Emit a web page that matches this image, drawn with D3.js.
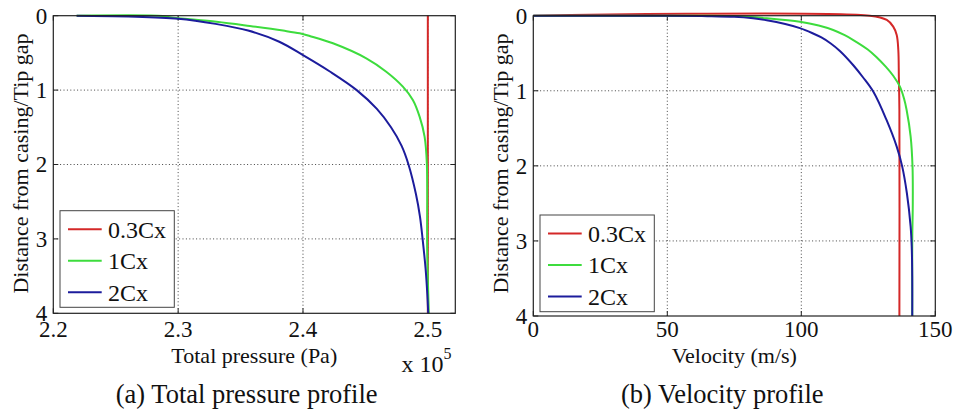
<!DOCTYPE html>
<html><head><meta charset="utf-8">
<script src="https://cdn.jsdelivr.net/npm/d3@7/dist/d3.min.js"></script>
<style>
html,body{margin:0;padding:0;background:#fff;}
svg{display:block;font-family:"Liberation Serif","Times New Roman",serif;}
</style></head>
<body><svg id="c" width="958" height="419"></svg>
<script>
// ---------- data ----------
const seriesNames = ["0.3Cx", "1Cx", "2Cx"];
const yTicks = [0, 1, 2, 3, 4];
const pressureTicks = [2.2, 2.3, 2.4, 2.5];
const velocityTicks = [0, 50, 100, 150];
const captions = ["(a) Total pressure profile", "(b) Velocity profile"];
const xTitles = ["Total pressure (Pa)", "Velocity (m/s)"];
const yTitle = "Distance from casing/Tip gap";

// Total pressure (x 10^5 Pa) vs distance from casing / tip gap  [x, y]
const pressure03Cx = [[2.5, 0], [2.5, 4]];
const pressure1Cx = [[2.2187, 0], [2.2878, 0.004], [2.2934, 0.022], [2.3307, 0.081], [2.3574, 0.138], [2.384, 0.20],
  [2.3974, 0.237], [2.4054, 0.273], [2.424, 0.371], [2.4507, 0.573], [2.4667, 0.753], [2.48, 0.954],
  [2.488, 1.133], [2.4934, 1.357], [2.4974, 1.626], [2.4992, 1.984], [2.4995, 3.15], [2.5008, 4.0]];
const pressure2Cx = [[2.2187, 0], [2.26, 0.01], [2.30, 0.04], [2.33, 0.11], [2.356, 0.2], [2.381, 0.35], [2.40, 0.53],
  [2.4215, 0.75], [2.443, 1.0], [2.459, 1.25], [2.4705, 1.5], [2.479, 1.75], [2.4845, 2.0], [2.4905, 2.4],
  [2.4937, 2.7], [2.4958, 3.0], [2.4982, 3.4], [2.4996, 3.75], [2.5003, 4.0]];

// Velocity (m/s) vs distance from casing / tip gap  [x, y]
const velocity03Cx = [[0, 0], [125.6, 0], [131.9, 0.057], [134.3, 0.146], [135.6, 0.257], [136.2, 0.457],
  [136.4, 0.812], [136.6, 1.256], [136.6, 4.0]];
const velocity1Cx = [[0, 0], [60, 0], [74.6, 0.005], [87.1, 0.035], [99.5, 0.08], [106.5, 0.13], [111.9, 0.19],
  [116.2, 0.26], [119.4, 0.324], [124.8, 0.45], [128.0, 0.55], [131.5, 0.679], [134.3, 0.8], [136.8, 0.945],
  [138.3, 1.1], [139.3, 1.256], [140.8, 1.611], [141.5, 2.01], [141.6, 2.5], [141.4, 3.0], [141.4, 4.0]];
const velocity2Cx = [[0, 0], [50, 0.002], [65, 0.006], [75, 0.015], [82, 0.035], [87.1, 0.06], [94, 0.11],
  [99.5, 0.165], [104, 0.23], [107.5, 0.29], [111, 0.37], [114.4, 0.47], [119.4, 0.66], [123, 0.82],
  [127, 1.02], [131.8, 1.389], [135.6, 1.744], [137.6, 2.0], [139.4, 2.365], [140.8, 2.81], [141.2, 3.076],
  [141.4, 3.475], [141.4, 4.0]];

// ---------- drawing ----------
const colors = ["#d42828", "#3ddc3d", "#1c1c9c"];
const svg = d3.select("#c");

const panels = [
  {left: 53.3, right: 455.3, top: 15.7, bottom: 313.3, domain: [2.2, 2.522], ticks: pressureTicks,
   fmt: d3.format(".1f"), series: [pressure03Cx, pressure1Cx, pressure2Cx], xTitle: xTitles[0], caption: captions[0],
   capX: 246.7, legend: {x: 60, y: 210.7, w: 114.3, h: 96.6}, exp: true},
  {left: 533.3, right: 935.3, top: 15.7, bottom: 316, domain: [0, 150], ticks: velocityTicks,
   fmt: d3.format("d"), series: [velocity03Cx, velocity1Cx, velocity2Cx], xTitle: xTitles[1], caption: captions[1],
   capX: 722.3, legend: {x: 540, y: 215, w: 114.3, h: 96.7}, exp: false}
];

panels.forEach(p => {
  const x = d3.scaleLinear().domain(p.domain).range([p.left, p.right]);
  const y = d3.scaleLinear().domain([0, 4]).range([p.top, p.bottom]);
  const g = svg.append("g");
  const tl = 5;

  // grid
  p.ticks.forEach(t => {
    const px = x(t);
    if (px > p.left + 1 && px < p.right - 1)
      g.append("line").attr("x1", px).attr("x2", px).attr("y1", p.top).attr("y2", p.bottom)
        .attr("stroke", "#444").attr("stroke-width", 1).attr("stroke-dasharray", "1,2.4");
  });
  yTicks.forEach(t => {
    const py = y(t);
    if (py > p.top + 1 && py < p.bottom - 1)
      g.append("line").attr("x1", p.left).attr("x2", p.right).attr("y1", py).attr("y2", py)
        .attr("stroke", "#444").attr("stroke-width", 1).attr("stroke-dasharray", "1,2.4");
  });

  // tick marks (inside, all four sides)
  p.ticks.forEach(t => {
    const px = x(t);
    g.append("line").attr("x1", px).attr("x2", px).attr("y1", p.bottom).attr("y2", p.bottom - tl).attr("stroke", "#222");
    g.append("line").attr("x1", px).attr("x2", px).attr("y1", p.top).attr("y2", p.top + tl).attr("stroke", "#222");
  });
  yTicks.forEach(t => {
    const py = y(t);
    g.append("line").attr("x1", p.left).attr("x2", p.left + tl).attr("y1", py).attr("y2", py).attr("stroke", "#222");
    g.append("line").attr("x1", p.right).attr("x2", p.right - tl).attr("y1", py).attr("y2", py).attr("stroke", "#222");
  });

  // curves
  const lineC = d3.line().x(d => x(d[0])).y(d => y(d[1])).curve(d3.curveCatmullRom.alpha(0.5));
  p.series.forEach((s, i) => {
    g.append("path").datum(s).attr("d", lineC).attr("fill", "none")
      .attr("stroke", colors[i]).attr("stroke-width", 2).attr("stroke-linejoin", "round");
  });

  // frame
  g.append("rect").attr("x", p.left).attr("y", p.top).attr("width", p.right - p.left).attr("height", p.bottom - p.top)
    .attr("fill", "none").attr("stroke", "#222").attr("stroke-width", 1.2);

  // tick labels
  p.ticks.forEach(t => {
    g.append("text").attr("x", x(t)).attr("y", 337).attr("text-anchor", "middle")
      .attr("font-size", 23).attr("fill", "#111").text(p.fmt(t));
  });
  yTicks.forEach(t => {
    g.append("text").attr("x", p.left - 6).attr("y", y(t)).attr("dy", "0.34em").attr("text-anchor", "end")
      .attr("font-size", 23).attr("fill", "#111").text(t);
  });

  // axis titles
  g.append("text").attr("x", (p.left + p.right) / 2).attr("y", 362.5).attr("text-anchor", "middle")
    .attr("font-size", 22).attr("fill", "#111").text(p.xTitle);
  g.append("text").attr("transform", `translate(${p.left - 25},${163.5}) rotate(-90)`).attr("text-anchor", "middle")
    .attr("font-size", 22).attr("fill", "#111").text(yTitle);

  if (p.exp) {
    const t = g.append("text").attr("x", 401.5).attr("y", 372).attr("font-size", 24).attr("fill", "#111");
    t.append("tspan").text("x 10");
    t.append("tspan").attr("dy", -13).attr("font-size", 16).text("5");
  }

  // caption
  g.append("text").attr("x", p.capX).attr("y", 403).attr("text-anchor", "middle")
    .attr("font-size", 26.5).attr("fill", "#111").text(p.caption);

  // legend
  const L = p.legend;
  g.append("rect").attr("x", L.x).attr("y", L.y).attr("width", L.w).attr("height", L.h)
    .attr("fill", "#fff").attr("stroke", "#444").attr("stroke-width", 1);
  seriesNames.forEach((n, i) => {
    const cy = L.y + 18.5 + i * 31.5;
    g.append("line").attr("x1", L.x + 8).attr("x2", L.x + 41.7).attr("y1", cy).attr("y2", cy)
      .attr("stroke", colors[i]).attr("stroke-width", 2);
    g.append("text").attr("x", L.x + 48).attr("y", cy).attr("dy", "0.35em").attr("font-size", 24)
      .attr("fill", "#111").text(n);
  });
});
</script></body></html>
